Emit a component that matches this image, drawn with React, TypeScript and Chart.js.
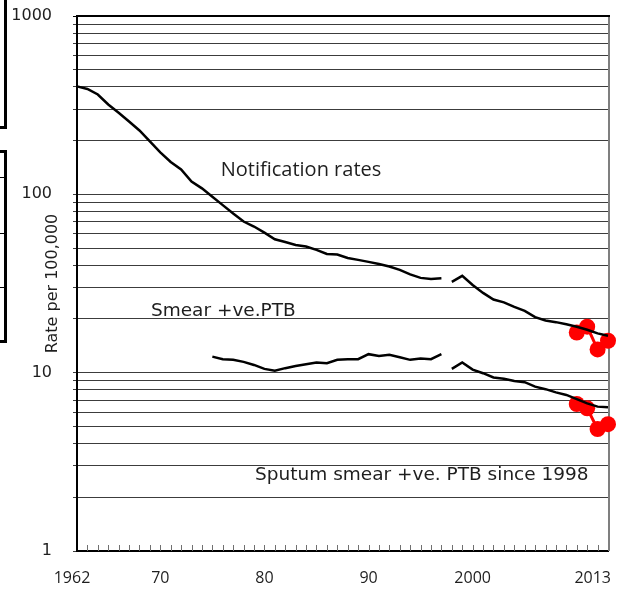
import React, { useEffect, useRef } from 'react';
import { Chart, registerables } from 'chart.js';

Chart.register(...registerables);

// ---------- data ----------
const X_MIN = 1962;
const X_MAX = 2013;
const X_LABEL_YEARS = [1962, 1970, 1980, 1990, 2000, 2013];
const X_LABEL_TEXT = ['1962', '70', '80', '90', '2000', '2013'];
const X_MINOR_TICK_YEARS = [
  1963, 1964, 1965, 1966, 1967, 1968, 1969, 1970, 1971, 1972, 1973, 1974, 1975, 1976, 1977, 1978,
  1979, 1980, 1981, 1982, 1983, 1984, 1985, 1986, 1987, 1988, 1989, 1990, 1991, 1992, 1993, 1994,
  1995, 1996, 1997, 1998, 1999, 2000, 2001, 2002, 2003, 2004, 2005, 2006, 2007, 2008, 2009, 2010,
  2011, 2012,
];

const Y_GRID = [
  1, 2, 3, 4, 5, 6, 7, 8, 9,
  10, 20, 30, 40, 50, 60, 70, 80, 90,
  100, 200, 300, 400, 500, 600, 700, 800, 900,
  1000,
];
const Y_LABELED = [1, 10, 100, 1000];

// Notification rates (per 100,000)
const NOTIF_YEARS_A = [
  1962, 1963, 1964, 1965, 1966, 1967, 1968, 1969, 1970, 1971, 1972, 1973, 1974, 1975, 1976, 1977,
  1978, 1979, 1980, 1981, 1982, 1983, 1984, 1985, 1986, 1987, 1988, 1989, 1990, 1991, 1992, 1993,
  1994, 1995, 1996, 1997,
];
const NOTIF_A = [
  403, 390, 363, 319, 287, 256, 228, 198, 172, 152, 138, 118, 108, 97, 87, 78,
  70.4, 66, 61, 56, 54, 52, 51, 48.8, 46.3, 46, 44, 42.9, 41.8, 40.7, 39.4, 37.7,
  35.6, 34, 33.5, 33.8,
];
const NOTIF_YEARS_B = [
  1998, 1999, 2000, 2001, 2002, 2003, 2004, 2005, 2006, 2007, 2008, 2009, 2010, 2011, 2012, 2013,
];
const NOTIF_B = [
  32.3, 34.9, 31.0, 28.0, 25.7, 24.8, 23.4, 22.2, 20.5, 19.6, 19.2, 18.7, 18.1, 17.4, 16.6, 16.1,
];

// Smear +ve PTB
const SMEAR_YEARS_A = [
  1975, 1976, 1977, 1978, 1979, 1980, 1981, 1982, 1983, 1984, 1985, 1986, 1987, 1988, 1989, 1990,
  1991, 1992, 1993, 1994, 1995, 1996, 1997,
];
const SMEAR_A = [
  12.3, 11.9, 11.8, 11.5, 11.05, 10.5, 10.26, 10.6, 10.9, 11.15, 11.4, 11.3, 11.8, 11.9, 11.9, 12.7,
  12.4, 12.6, 12.2, 11.8, 12.0, 11.9, 12.7,
];
const SMEAR_YEARS_B = [
  1998, 1999, 2000, 2001, 2002, 2003, 2004, 2005, 2006, 2007, 2008, 2009, 2010, 2011, 2012, 2013,
];
const SMEAR_B = [
  10.5, 11.4, 10.4, 9.93, 9.4, 9.25, 8.98, 8.84, 8.35, 8.08, 7.75, 7.5, 7.1, 6.73, 6.45, 6.4,
];

// Red highlighted recent values
const RED_YEARS = [2010, 2011, 2012, 2013];
const RED_NOTIF = [16.8, 18.1, 13.5, 15.1];
const RED_SMEAR = [6.67, 6.31, 4.83, 5.14];

// Text labels drawn in the plot
const ANNOTATIONS = [
  { text: 'Notification rates', year: 1975.8, value: 137, font: '20px "Open Sans", sans-serif' },
  { text: 'Smear +ve.PTB', year: 1969.1, value: 22.2, font: '18.5px "DejaVu Sans", Verdana, sans-serif' },
  {
    text: 'Sputum smear +ve. PTB since 1998',
    year: 1979.1,
    value: 2.67,
    font: '18.5px "DejaVu Sans", Verdana, sans-serif',
  },
];

// ---------- helpers ----------
const pts = (xs: number[], ys: number[]) => xs.map((x, i) => ({ x, y: ys[i] }));

const VERDANA = '"DejaVu Sans", Verdana, sans-serif';
const TEXT_COLOR = '#1e1e1e';
const GRID_COLOR = '#3c3c3c';

const decorPlugin = {
  id: 'decor',
  beforeDatasetsDraw(chart: any) {
    const { ctx, chartArea: a, scales } = chart;
    const xs = scales.x;
    ctx.save();
    // right border (gray)
    ctx.strokeStyle = '#7f7f7f';
    ctx.lineWidth = 2;
    ctx.beginPath();
    ctx.moveTo(a.right + 1, a.top);
    ctx.lineTo(a.right + 1, a.bottom);
    ctx.stroke();
    // top border
    ctx.strokeStyle = '#000';
    ctx.lineWidth = 2;
    ctx.beginPath();
    ctx.moveTo(a.left, a.top);
    ctx.lineTo(a.right + 2, a.top);
    ctx.stroke();
    // inward minor ticks on x axis
    ctx.strokeStyle = '#707070';
    ctx.lineWidth = 1;
    ctx.beginPath();
    for (const yr of X_MINOR_TICK_YEARS) {
      const px = Math.round(xs.getPixelForValue(yr)) + 0.5;
      ctx.moveTo(px, a.bottom);
      ctx.lineTo(px, a.bottom - 6);
    }
    ctx.stroke();
    ctx.restore();
  },
  afterDraw(chart: any) {
    const { ctx, chartArea: a, scales } = chart;
    const xs = scales.x;
    const ys = scales.y;
    ctx.save();
    // x labels
    ctx.fillStyle = TEXT_COLOR;
    ctx.font = '16px "Open Sans", sans-serif';
    ctx.textBaseline = 'middle';
    X_LABEL_YEARS.forEach((yr, i) => {
      const px = xs.getPixelForValue(yr);
      if (i === X_LABEL_YEARS.length - 1) {
        ctx.textAlign = 'right';
        ctx.fillText(X_LABEL_TEXT[i], a.right + 3, a.bottom + 27);
      } else if (i === 0) {
        ctx.textAlign = 'center';
        ctx.fillText(X_LABEL_TEXT[i], px - 5, a.bottom + 27);
      } else {
        ctx.textAlign = 'center';
        ctx.fillText(X_LABEL_TEXT[i], px, a.bottom + 27);
      }
    });
    // annotations
    ctx.textAlign = 'left';
    ctx.textBaseline = 'middle';
    for (const an of ANNOTATIONS) {
      ctx.font = an.font;
      ctx.fillText(an.text, xs.getPixelForValue(an.year), ys.getPixelForValue(an.value));
    }
    ctx.restore();
  },
};

export default function App() {
  const ref = useRef<HTMLCanvasElement>(null);

  useEffect(() => {
    if (!ref.current) return;
    const blackLine = {
      borderColor: '#000',
      borderWidth: 2.5,
      pointRadius: 0,
      pointHoverRadius: 0,
      tension: 0,
      fill: false,
      clip: false as any,
    };
    const redLine = {
      borderColor: '#ff0000',
      backgroundColor: '#ff0000',
      borderWidth: 3,
      pointRadius: 8,
      pointBorderWidth: 0,
      pointBackgroundColor: '#ff0000',
      pointHoverRadius: 8,
      tension: 0,
      fill: false,
      clip: false as any,
    };
    const chart = new Chart(ref.current, {
      type: 'line',
      data: {
        datasets: [
          { ...blackLine, label: 'Notification rates', data: pts(NOTIF_YEARS_A, NOTIF_A) },
          { ...blackLine, label: 'Notification rates (1998-)', data: pts(NOTIF_YEARS_B, NOTIF_B) },
          { ...blackLine, label: 'Smear +ve.PTB', data: pts(SMEAR_YEARS_A, SMEAR_A) },
          { ...blackLine, label: 'Sputum smear +ve. PTB since 1998', data: pts(SMEAR_YEARS_B, SMEAR_B) },
          { ...redLine, label: 'Notification (recent)', data: pts(RED_YEARS, RED_NOTIF) },
          { ...redLine, label: 'Smear (recent)', data: pts(RED_YEARS, RED_SMEAR) },
        ],
      },
      options: {
        animation: false,
        responsive: false,
        devicePixelRatio: 1,
        events: [],
        layout: { padding: { top: 16, right: 17, left: 0, bottom: 0 } },
        plugins: {
          legend: { display: false },
          tooltip: { enabled: false },
        },
        scales: {
          x: {
            type: 'linear',
            min: X_MIN,
            max: X_MAX,
            grid: { display: false, drawTicks: false },
            border: { display: true, color: '#000', width: 2 },
            ticks: { display: false, stepSize: 1 },
            afterFit: (scale: any) => {
              scale.height = 41;
              scale.paddingLeft = 0;
              scale.paddingRight = 0;
            },
          },
          y: {
            type: 'logarithmic',
            min: 1,
            max: 1000,
            afterBuildTicks: (scale: any) => {
              scale.ticks = Y_GRID.map((v) => ({ value: v, major: Y_LABELED.includes(v) }));
            },
            grid: {
              color: (c: any) => (c.tick && c.tick.value === 1000 ? '#000' : GRID_COLOR),
              lineWidth: 1,
              drawTicks: true,
              tickLength: 4,
            },
            border: { display: true, color: '#000', width: 2 },
            ticks: {
              autoSkip: false,
              padding: 21,
              color: TEXT_COLOR,
              font: { family: VERDANA, size: 16 },
              callback: (v: any) => (Y_LABELED.includes(Number(v)) ? String(v) : ''),
            },
            title: {
              display: true,
              text: 'Rate per 100,000',
              color: TEXT_COLOR,
              font: { family: VERDANA, size: 16 },
              padding: { top: 43, bottom: 0 },
            },
            afterFit: (scale: any) => {
              scale.width = 77;
              scale.paddingTop = 0;
              scale.paddingBottom = 0;
            },
          },
        },
      },
      plugins: [decorPlugin],
    } as any);
    return () => chart.destroy();
  }, []);

  return (
    <div
      style={{
        position: 'absolute',
        left: 0,
        top: 0,
        width: 625,
        height: 592,
        background: '#fff',
        overflow: 'hidden',
      }}
    >
      <canvas
        ref={ref}
        width={625}
        height={592}
        style={{ position: 'absolute', left: 0, top: 0, width: 625, height: 592 }}
      />
      <div
        style={{
          position: 'absolute',
          left: -20,
          top: -5,
          width: 27,
          height: 134,
          border: '3px solid #000',
          boxSizing: 'border-box',
        }}
      />
      <div
        style={{
          position: 'absolute',
          left: -20,
          top: 150,
          width: 27,
          height: 193,
          border: '3px solid #000',
          boxSizing: 'border-box',
        }}
      />
      {[177, 233, 287].map((t) => (
        <div
          key={t}
          style={{ position: 'absolute', left: 0, top: t, width: 5, height: 1, background: '#000' }}
        />
      ))}
    </div>
  );
}
